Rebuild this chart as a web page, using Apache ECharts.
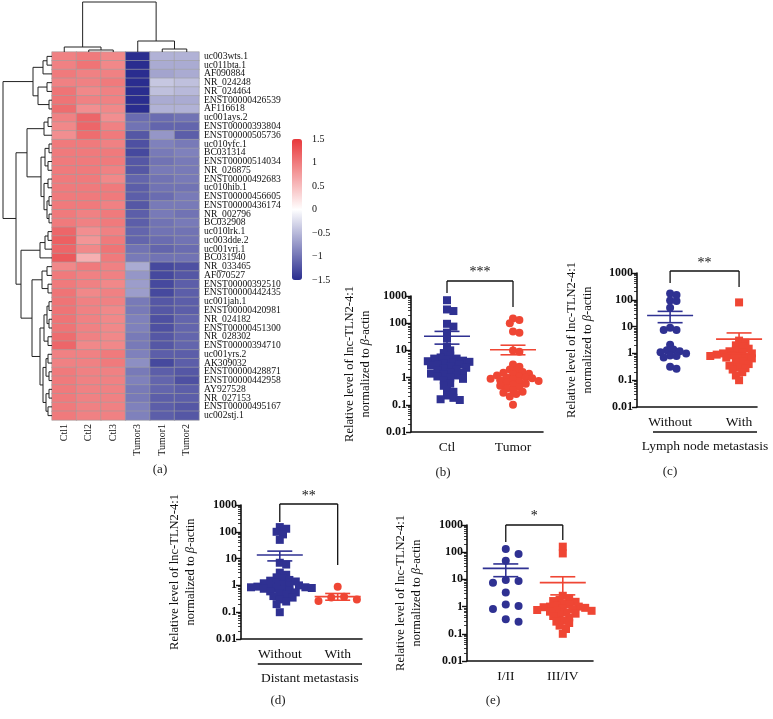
<!DOCTYPE html>
<html><head><meta charset="utf-8">
<script src="https://cdn.jsdelivr.net/npm/echarts@6/dist/echarts.min.js"></script>
<style>html,body{margin:0;padding:0;background:#fff}#c{width:773px;height:719px}</style>
</head><body><div id="c"></div>
<script>
// ---------------- DATA ----------------
const geneNames = ['uc003wts.1','uc011bta.1','AF090884','NR_024248','NR_024464','ENST00000426539','AF116618',
 'uc001ays.2','ENST00000393804','ENST00000505736','uc010yfc.1','BC031314','ENST00000514034','NR_026875',
 'ENST00000492683','uc010hib.1','ENST00000456605','ENST00000436174','NR_002796','BC032908','uc010lrk.1',
 'uc003dde.2','uc001vrj.1','BC031940','NR_033465','AF070527','ENST00000392510','ENST00000442435','uc001jah.1',
 'ENST00000420981','NR_024182','ENST00000451300','NR_028302','ENST00000394710','uc001yrs.2','AK309032',
 'ENST00000428871','ENST00000442958','AY927528','NR_027153','ENST00000495167','uc002stj.1'];
const heatCols = ['Ctl1','Ctl2','Ctl3','Tumor3','Tumor1','Tumor2'];
const heatValues = [
 [0.95,1.0,0.9,-1.8,-0.55,-0.55],[0.95,1.05,0.9,-1.75,-0.6,-0.6],[1.0,0.95,0.95,-1.7,-0.65,-0.6],
 [0.95,0.95,1.0,-1.85,-0.4,-0.45],[1.05,0.9,0.95,-1.85,-0.45,-0.5],[1.05,0.95,0.95,-1.8,-0.6,-0.6],
 [1.1,0.85,0.9,-1.8,-0.55,-0.55],
 [0.95,1.15,0.85,-1.05,-1.05,-1.0],[0.9,1.15,0.95,-1.0,-1.1,-1.1],[0.85,1.1,1.0,-1.2,-0.75,-1.15],
 [1.0,1.0,0.95,-1.25,-0.9,-0.95],[1.0,1.0,1.0,-1.3,-0.95,-0.9],[1.0,1.0,1.0,-1.2,-1.0,-0.95],
 [1.0,1.0,0.95,-1.2,-0.95,-0.95],[1.0,1.0,0.9,-1.1,-1.0,-0.95],[1.0,1.0,1.0,-1.15,-1.0,-1.0],
 [1.0,1.0,1.0,-1.15,-1.05,-0.95],[1.0,1.0,0.95,-1.2,-0.95,-0.95],[1.0,0.95,1.0,-1.15,-0.95,-1.0],
 [1.0,0.95,1.0,-1.15,-1.0,-0.95],[1.15,0.85,0.95,-1.1,-1.0,-1.0],[1.2,0.8,1.0,-1.1,-1.05,-1.0],
 [1.15,0.9,1.05,-1.0,-1.1,-1.05],[1.25,0.6,1.0,-0.95,-1.0,-1.0],
 [0.9,1.0,0.95,-0.6,-1.3,-1.25],[1.0,0.95,0.95,-0.75,-1.3,-1.2],[1.0,0.95,0.9,-0.7,-1.3,-1.15],
 [1.05,0.9,0.95,-0.7,-1.3,-1.15],[1.05,0.95,0.95,-0.95,-1.2,-1.15],[1.05,0.95,0.9,-0.95,-1.2,-1.15],
 [1.05,0.95,0.9,-0.9,-1.25,-1.1],[1.05,0.95,0.9,-0.9,-1.25,-1.1],[1.1,0.95,0.9,-0.95,-1.2,-1.1],
 [1.15,0.9,0.9,-0.95,-1.2,-1.1],[0.95,0.95,1.0,-0.9,-1.15,-1.15],[0.95,0.95,1.0,-0.8,-1.3,-1.15],
 [1.0,0.95,0.95,-0.95,-1.15,-1.2],[1.0,0.95,0.95,-0.9,-1.1,-1.25],[1.0,0.95,0.95,-0.95,-1.1,-1.15],
 [1.0,0.95,0.95,-0.95,-1.15,-1.15],[1.0,0.95,0.95,-0.9,-1.15,-1.2],[1.0,0.95,0.95,-0.9,-1.15,-1.2]
];
// dendrograms: [left, right, height]; leaves are display indices
const colTree = [[0,[1,2,2],5],[3,[4,5,3],11],50];
const rowTreeA = [[[0,1,5],2,9],[[3,4,5],[5,6,3],14],19];
const rowTreeB1 = [[[7,8,4],9,8],[[[10,11,3],[12,13,4],7],[[14,15,4],[[16,17,3],[18,19,3],5],8],11],25];
const rowTreeB2 = [[[20,21,4],22,7],23,12];
const rowTreeC = [[[24,25,5],[26,27,4],10],[[[[28,29,3],[30,31,3],5],[32,33,4],8],[[[34,35,4],[36,37,3],6],[[38,39,3],[40,41,4],6],9],12],20];
const rowTree = [rowTreeA,[rowTreeB1,[rowTreeB2,rowTreeC,31],36],49];
const colorbarMin = -1.5, colorbarMax = 1.5, colorbarStep = 0.5;

const yTickLabels = ['0.01','0.1','1','10','100','1000'];
// (b)
const bCats = ['Ctl','Tumor'];
const bCtl = [700,320,280,95,75,45,28,14,10,8,6.5,5.5,5,5,4.5,4.2,4,3.8,3.5,3.2,3,3,2.8,2.5,2.3,2.1,2,1.8,1.6,1.5,1.4,1.3,1.2,1.1,1.0,0.9,0.8,0.6,0.5,0.35,0.3,0.22,0.18,0.16,0.15];
const bTumor = [150,130,100,50,45,10,9,3,2.5,2,1.8,1.6,1.5,1.4,1.3,1.2,1.1,1.0,1.0,0.95,0.9,0.85,0.8,0.75,0.7,0.65,0.6,0.55,0.5,0.45,0.4,0.35,0.3,0.28,0.25,0.2,0.1];
const bMeanSem = [[33,17,50],[10.6,6.9,15.5]];
const bStars = '***';
// (c)
const cCats = ['Without','With'];
const cWithout = [170,150,95,90,50,9,7.5,7.5,2.1,1.4,1.3,1.2,1.1,1.0,0.83,0.8,0.7,0.32,0.27];
const cWith = [80,3,2.5,2,1.8,1.5,1.3,1.2,1.1,1,1,0.95,0.9,0.85,0.8,0.8,0.75,0.7,0.7,0.65,0.6,0.5,0.45,0.4,0.35,0.3,0.28,0.25,0.2,0.15,0.1];
const cMeanSem = [[26,14,37],[3.4,1.0,5.8]];
const cStars = '**';
const cTitle = 'Lymph node metastasis';
// (d)
const dCats = ['Without','With'];
const dWithout = [150,130,100,80,50,7,6,3,2.5,2,1.8,1.6,1.5,1.4,1.3,1.2,1.1,1,1,0.95,0.9,0.85,0.85,0.8,0.8,0.75,0.7,0.65,0.6,0.55,0.5,0.45,0.4,0.35,0.3,0.25,0.2,0.1];
const dWith = [0.9,0.38,0.35,0.3,0.26,0.19];
const dMeanSem = [[13.6,8.2,19],[0.38,0.28,0.5]];
const dStars = '**';
const dTitle = 'Distant metastasis';
// (e)
const eCats = ['I/II','III/IV'];
const eEarly = [130,85,48,9.5,8.8,7.5,3.3,1.2,1.05,0.82,0.34,0.28];
const eLate = [160,90,2.5,2,1.8,1.6,1.5,1.3,1.2,1.1,1,1,0.95,0.9,0.85,0.8,0.75,0.7,0.7,0.65,0.6,0.55,0.5,0.45,0.4,0.3,0.28,0.25,0.2,0.15,0.1];
const eMeanSem = [[25.5,12.6,37],[7.6,2.7,12.5]];
const eStars = '*';

// ---------------- STYLE / LAYOUT ----------------
const FONT = 'Liberation Serif, DejaVu Serif, serif';
const BLUE = '#2f3192', RED = '#ef4634';
const yName = 'Relative level of lnc-TLN2-4:1\nnormalized to {i|β}-actin';

function dendroSegs(tree){
  const segs=[];
  (function walk(n){
    if(typeof n==='number') return {p:n+0.5,h:0};
    const a=walk(n[0]), b=walk(n[1]), h=n[2];
    segs.push([a.p,a.h,a.p,h]); segs.push([b.p,b.h,b.p,h]); segs.push([a.p,h,b.p,h]);
    return {p:(a.p+b.p)/2,h};
  })(tree);
  return segs;
}
function swarm(vals, pxDec, pxUnit, size){
  const order=vals.map((v,i)=>i).sort((a,b)=>vals[b]-vals[a]);
  const placed=[], off=new Array(vals.length).fill(0);
  const sparse=vals.length<15;
  const dmin=size*(sparse?1.4:0.62), step=size*(sparse?0.8:0.4);
  order.forEach(i=>{
    const y=Math.log10(vals[i])*pxDec;
    for(let k=0;k<400;k++){
      const m=Math.ceil(k/2)*(k%2?1:-1)*step;
      if(placed.every(p=>Math.hypot(p[0]-m,p[1]-y)>=dmin)){placed.push([m,y]);off[i]=m/pxUnit;break;}
    }
  });
  return off;
}

const panels = [
  {cats:bCats, g:[bCtl,bTumor], sym:['rect','circle'], ms:bMeanSem, stars:bStars, grid:{left:411,top:296,width:132,height:136}, xr:[0.4545,2.4545], gap:37,
   br:{h:-15,l:-3,r:11,s:-24}},
  {cats:cCats, g:[cWithout,cWith], sym:['circle','rect'], ms:cMeanSem, stars:cStars, grid:{left:637,top:273,width:120,height:134}, xr:[0.52,2.26], gap:41,
   br:{h:-2,l:10,r:14,s:-10}, title:cTitle, ul:0.752},
  {cats:dCats, g:[dWithout,dWith], sym:['rect','circle'], ms:dMeanSem, stars:dStars, grid:{left:241,top:505,width:121,height:134}, xr:[0.33,2.42], gap:42,
   br:{h:-1,l:17,r:60,s:-9}, title:dTitle, ul:0.62},
  {cats:eCats, g:[eEarly,eLate], sym:['circle','rect'], ms:eMeanSem, stars:eStars, grid:{left:467,top:525,width:126,height:136}, xr:[0.32,2.53], gap:42,
   br:{h:0,l:17,r:15,s:-9}}
];

const grids=[], xAxes=[], yAxes=[], series=[];
grids.push({left:52,top:52,width:147,height:368});
xAxes.push({type:'category',gridIndex:0,data:heatCols,axisLine:{show:false},axisTick:{show:false},
  axisLabel:{rotate:90,fontSize:10,fontFamily:FONT,color:'#111',margin:4}});
yAxes.push({type:'category',gridIndex:0,data:geneNames,inverse:true,position:'right',axisLine:{show:false},axisTick:{show:false},
  axisLabel:{fontSize:9.6,fontFamily:FONT,color:'#111',margin:5,interval:0}});
const hData=[];
heatValues.forEach((row,r)=>row.forEach((v,c)=>hData.push([c,r,Math.max(colorbarMin,Math.min(colorbarMax,v))])));
series.push({type:'heatmap',xAxisIndex:0,yAxisIndex:0,data:hData,itemStyle:{borderColor:'#a0a0a0',borderWidth:0.6},emphasis:{disabled:true}});
grids.push({left:52,top:2,width:147,height:50});
xAxes.push({type:'value',gridIndex:1,min:0,max:6,show:false});
yAxes.push({type:'value',gridIndex:1,min:0,max:50,show:false});
const lineRender=(params,api)=>{const p1=api.coord([api.value(0),api.value(1)]),p2=api.coord([api.value(2),api.value(3)]);
  return {type:'line',shape:{x1:p1[0],y1:p1[1],x2:p2[0],y2:p2[1]},style:{stroke:'#222',lineWidth:1}};};
series.push({type:'custom',xAxisIndex:1,yAxisIndex:1,data:dendroSegs(colTree),renderItem:lineRender,clip:false,silent:true});
grids.push({left:2,top:52,width:50,height:368});
xAxes.push({type:'value',gridIndex:2,min:0,max:50,inverse:true,show:false});
yAxes.push({type:'value',gridIndex:2,min:0,max:42,inverse:true,show:false});
series.push({type:'custom',xAxisIndex:2,yAxisIndex:2,data:dendroSegs(rowTree).map(s=>[s[1],s[0],s[3],s[2]]),renderItem:lineRender,clip:false,silent:true});
grids.push({left:292,top:139,width:10,height:141});
xAxes.push({type:'category',gridIndex:3,data:[''],show:false});
yAxes.push({type:'value',gridIndex:3,min:colorbarMin,max:colorbarMax,interval:colorbarStep,position:'right',
  axisLine:{show:false},axisTick:{show:false},splitLine:{show:false},
  axisLabel:{margin:10,fontSize:10,fontFamily:FONT,color:'#111',formatter:v=>v<0?'\u2212'+Math.abs(v):String(v)}});
series.push({type:'scatter',xAxisIndex:3,yAxisIndex:3,data:[],silent:true});

panels.forEach((P,k)=>{
  const gi=4+k;
  grids.push(P.grid);
  xAxes.push({type:'value',gridIndex:gi,min:P.xr[0],max:P.xr[1],splitLine:{show:false},
    axisLine:{onZero:false,lineStyle:{color:'#111',width:1.6}},axisTick:{show:false},
    axisLabel:{customValues:[1,2],formatter:v=>P.cats[Math.round(v)-1]||'',fontSize:13.5,fontFamily:FONT,color:'#111',margin:8}});
  yAxes.push({type:'log',logBase:10,gridIndex:gi,min:0.01,max:1000,splitLine:{show:false},
    axisLine:{show:true,lineStyle:{color:'#111',width:1.6}},
    axisTick:{show:true,length:5,lineStyle:{color:'#111',width:1.4}},
    minorTick:{show:true,splitNumber:9,length:3,lineStyle:{color:'#111',width:0.8}},
    axisLabel:{fontSize:12,fontWeight:'bold',fontFamily:FONT,color:'#111',margin:4,
      formatter:v=>yTickLabels[Math.round(Math.log10(v))+2]},
    name:yName,nameLocation:'middle',nameGap:P.gap,nameRotate:90,
    nameTextStyle:{fontSize:12.5,fontFamily:FONT,color:'#111',lineHeight:16,align:'center',
      rich:{i:{fontStyle:'italic',fontSize:12.5,fontFamily:FONT,color:'#111'}}}});
  const pxDec=P.grid.height/5, pxUnit=P.grid.width/(P.xr[1]-P.xr[0]);
  P.g.forEach((vals,j)=>{
    const off=swarm(vals,pxDec,pxUnit,8);
    series.push({type:'scatter',xAxisIndex:gi,yAxisIndex:gi,symbol:P.sym[j],symbolSize:8,
      itemStyle:{color:j?RED:BLUE,opacity:1},data:vals.map((v,i)=>[j+1+off[i],v]),silent:true,z:2});
  });
  series.push({type:'custom',xAxisIndex:gi,yAxisIndex:gi,clip:false,silent:true,z:3,
    data:P.ms.map((m,j)=>[j+1,m[0],m[1],m[2],j]),
    renderItem:(params,api)=>{
      const x=api.value(0), c=api.coord([x,api.value(1)]), lo=api.coord([x,api.value(2)]), hi=api.coord([x,api.value(3)]);
      const col=api.value(4)?RED:BLUE, st={stroke:col,lineWidth:1.6};
      const mw=23, cw=12.5;
      return {type:'group',children:[
        {type:'line',shape:{x1:c[0]-mw,y1:c[1],x2:c[0]+mw,y2:c[1]},style:st},
        {type:'line',shape:{x1:c[0],y1:lo[1],x2:c[0],y2:hi[1]},style:st},
        {type:'line',shape:{x1:c[0]-cw,y1:lo[1],x2:c[0]+cw,y2:lo[1]},style:st},
        {type:'line',shape:{x1:c[0]-cw,y1:hi[1],x2:c[0]+cw,y2:hi[1]},style:st}]};
    }});
  series.push({type:'custom',xAxisIndex:gi,yAxisIndex:gi,clip:false,silent:true,z:4,data:[[1,1000]],
    renderItem:(params,api)=>{
      const a=api.coord([1,1000]), b=api.coord([2,1000]), t=a[1], B=P.br;
      const bottom=api.coord([1,0.01])[1];
      const st={stroke:'#111',lineWidth:1.3};
      const ch=[
        {type:'line',shape:{x1:a[0],y1:t+B.h,x2:b[0],y2:t+B.h},style:st},
        {type:'line',shape:{x1:a[0],y1:t+B.h,x2:a[0],y2:t+B.l},style:st},
        {type:'line',shape:{x1:b[0],y1:t+B.h,x2:b[0],y2:t+B.r},style:st},
        {type:'text',x:(a[0]+b[0])/2,y:t+B.s,style:{text:P.stars,fontSize:14,fontFamily:FONT,fill:'#111',align:'center',verticalAlign:'middle'}}];
      if(P.title){
        const u=api.coord([P.ul,1000])[0], r=api.coord([P.xr[1],1000])[0];
        ch.push({type:'line',shape:{x1:u,y1:bottom+25,x2:r,y2:bottom+25},style:{stroke:'#111',lineWidth:1.3}});
        ch.push({type:'text',x:(u+r)/2,y:bottom+39,style:{text:P.title,fontSize:13.5,fontFamily:FONT,fill:'#111',align:'center',verticalAlign:'middle'}});
      }
      return {type:'group',children:ch};
    }});
});

const letters=[['(a)',160,470],['(b)',443,473],['(c)',670,472],['(d)',278,701],['(e)',493,701]];
const chart=echarts.init(document.getElementById('c'),null,{renderer:'canvas'});
chart.setOption({
  animation:false,backgroundColor:'#fff',
  grid:grids,xAxis:xAxes,yAxis:yAxes,series:series,
  visualMap:{type:'continuous',min:colorbarMin,max:colorbarMax,seriesIndex:0,calculable:false,orient:'vertical',
    left:292,top:139,itemWidth:10,itemHeight:141,padding:0,text:null,showLabel:false,
    inRange:{color:['#2a2d8f','#ffffff','#e8383b']}},
  graphic:letters.map(l=>({type:'text',x:l[1],y:l[2],style:{text:l[0],fontSize:13,fontFamily:FONT,fill:'#222',align:'center',verticalAlign:'middle'}}))
});
</script></body></html>
